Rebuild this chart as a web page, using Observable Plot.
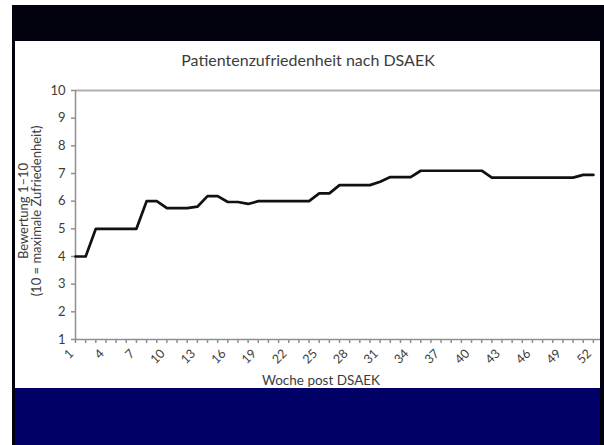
<!DOCTYPE html>
<html>
<head>
<meta charset="utf-8">
<script src="https://cdn.jsdelivr.net/npm/d3@7"></script>
<script src="https://cdn.jsdelivr.net/npm/@observablehq/plot@0.6"></script>
<style>
  html, body { margin: 0; padding: 0; background: #fff; }
  #frame { position: absolute; left: 12px; top: 5px; width: 592px; height: 440px; background: #02020f; }
  #panel { position: absolute; left: 3px; top: 36px; width: 585px; height: 347px; background: #fff; overflow: hidden; }
  #band { position: absolute; left: 3px; top: 383px; width: 585px; height: 57px; background: #000066; }
  .lbl { position: absolute; white-space: nowrap; font-family: Lato, "Liberation Sans", sans-serif; color: #3c3c3c; transform: translate(-50%, -50%); line-height: 1; }
  #panel svg { position: absolute; left: 0; top: 0; }
</style>
</head>
<body>
<div id="frame">
  <div id="panel">
    <div class="lbl" id="title" style="left:293px; top:19px; font-size:16px;"></div>
    <div class="lbl" id="ylab1" style="left:8px; top:170px; font-size:13px; transform: translate(-50%, -50%) rotate(-90deg);"></div>
    <div class="lbl" id="ylab2" style="left:21px; top:170px; font-size:13px; transform: translate(-50%, -50%) rotate(-90deg);"></div>
    <div class="lbl" id="xlab" style="left:306px; top:340px; font-size:13.5px;"></div>
  </div>
  <div id="band"></div>
</div>
<script>
// Weekly mean satisfaction score after DSAEK (scale 1–10)
const weeks = [1, 2, 3, 4, 5, 6, 7, 8, 9, 10, 11, 12, 13, 14, 15, 16, 17, 18, 19, 20,
  21, 22, 23, 24, 25, 26, 27, 28, 29, 30, 31, 32, 33, 34, 35, 36, 37, 38, 39, 40,
  41, 42, 43, 44, 45, 46, 47, 48, 49, 50, 51, 52];
const satisfaction = [4.0, 4.0, 5.0, 5.0, 5.0, 5.0, 5.0, 6.0, 6.0, 5.75,
  5.75, 5.75, 5.8, 6.18, 6.18, 5.97, 5.97, 5.9, 6.0, 6.0,
  6.0, 6.0, 6.0, 6.0, 6.28, 6.28, 6.58, 6.58, 6.58, 6.58,
  6.7, 6.87, 6.87, 6.87, 7.1, 7.1, 7.1, 7.1, 7.1, 7.1,
  7.1, 6.85, 6.85, 6.85, 6.85, 6.85, 6.85, 6.85, 6.85, 6.85,
  6.95, 6.95];
const xTickLabels = [1, 4, 7, 10, 13, 16, 19, 22, 25, 28, 31, 34, 37, 40, 43, 46, 49, 52];
const yTicks = [1, 2, 3, 4, 5, 6, 7, 8, 9, 10];

const chartTitle = "Patientenzufriedenheit nach DSAEK";
const yTitle = ["Bewertung 1–10", "(10 = maximale Zufriedenheit)"];
const xTitle = "Woche post DSAEK";

const data = weeks.map((w, i) => ({week: w, score: satisfaction[i]}));

document.getElementById("title").textContent = chartTitle;
document.getElementById("ylab1").textContent = yTitle[0];
document.getElementById("ylab2").textContent = yTitle[1];
document.getElementById("xlab").textContent = xTitle;

const axisGray = "#8f8f8f";
const textGray = "#3c3c3c";

const chart = Plot.plot({
  width: 585,
  height: 347,
  marginTop: 49,
  marginBottom: 49,
  marginLeft: 60,
  marginRight: 0,
  style: {fontFamily: "Lato, 'Liberation Sans', sans-serif", background: "transparent", overflow: "visible"},
  x: {domain: [1, 52.7]},
  y: {domain: [1, 10]},
  marks: [
    Plot.ruleY([10], {stroke: "#b0b0b0", strokeWidth: 2}),
    Plot.ruleY([1], {stroke: axisGray, strokeWidth: 1.5}),
    Plot.ruleX([1], {y1: 1, y2: 10, stroke: axisGray, strokeWidth: 1.5}),
    Plot.axisY({ticks: yTicks, tickSize: 4, tickPadding: 6, stroke: axisGray, strokeWidth: 1.5, fill: textGray, fontSize: 13, label: null}),
    Plot.axisX({ticks: weeks, tickSize: 4, stroke: axisGray, strokeWidth: 1.5, text: null, label: null}),
    Plot.axisX({ticks: xTickLabels, tickSize: 0, tickPadding: 12, tickRotate: -45, dx: -4, fill: textGray, fontSize: 12.5, label: null}),
    Plot.line(data, {x: "week", y: "score", stroke: "#111", strokeWidth: 2.7, strokeLinejoin: "round", strokeLinecap: "round"})
  ]
});
document.getElementById("panel").prepend(chart);
</script>
</body>
</html>
